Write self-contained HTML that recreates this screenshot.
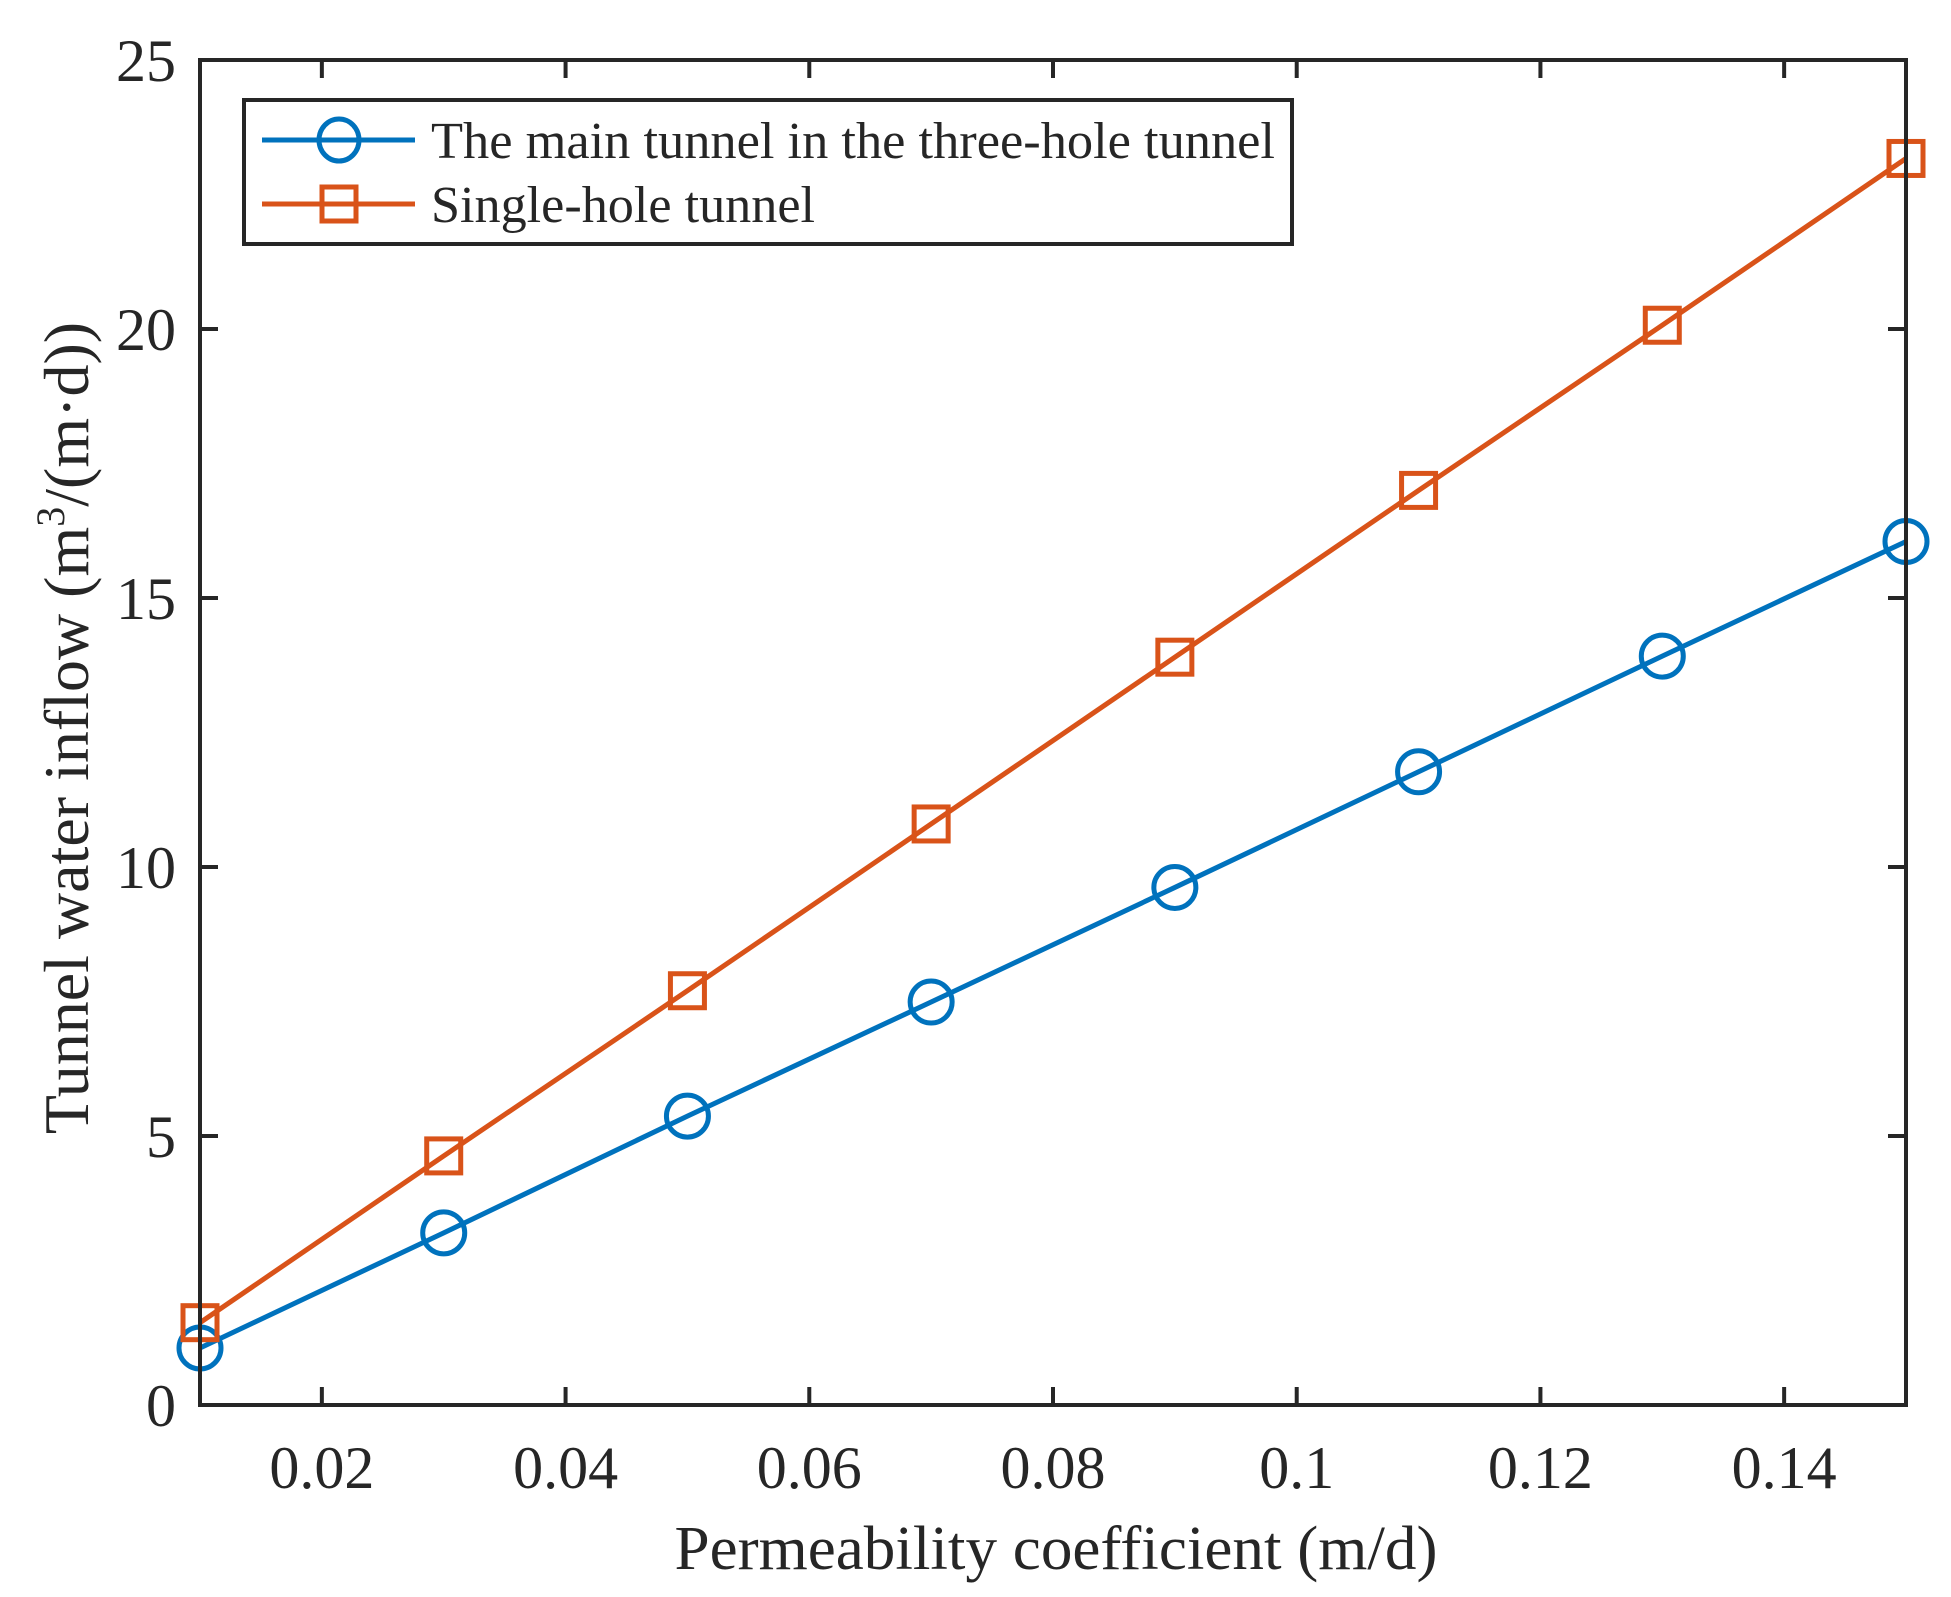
<!DOCTYPE html>
<html><head><meta charset="utf-8"><style>
html,body{margin:0;padding:0;background:#fff;}
svg text{font-family:"Liberation Serif",serif;fill:#262626;}
</style></head><body>
<svg id="chart" width="1951" height="1592" viewBox="0 0 1951 1592" xmlns="http://www.w3.org/2000/svg">
<g id="grid"></g>
<g id="series"></g>
<g id="axes"></g>
<g id="legend">
  <rect x="244" y="100" width="1048" height="144" fill="#fff" stroke="#262626" stroke-width="4"/>
  <g>
    <line x1="262" y1="140" x2="415" y2="140" stroke="#0072BD" stroke-width="5"/>
    <ellipse cx="339" cy="140" rx="20" ry="21" fill="none" stroke="#0072BD" stroke-width="5"/>
    <text x="431" y="158" font-size="52" textLength="844" lengthAdjust="spacingAndGlyphs">The main tunnel in the three-hole tunnel</text>
  </g>
  <g>
    <line x1="262" y1="204" x2="415" y2="204" stroke="#D95319" stroke-width="5"/>
    <rect x="322" y="187" width="34" height="34" fill="none" stroke="#D95319" stroke-width="5"/>
    <text x="431" y="222" font-size="52" textLength="384" lengthAdjust="spacingAndGlyphs">Single-hole tunnel</text>
  </g>
</g>
<text x="1056" y="1569" font-size="62" text-anchor="middle" textLength="763" lengthAdjust="spacingAndGlyphs">Permeability coefficient (m/d)</text>
<text transform="translate(88,728) rotate(-90)" font-size="64" text-anchor="middle">Tunnel  water inflow (m<tspan dy="-24" font-size="40">3</tspan><tspan dy="24">/(m·d))</tspan></text>
</svg>
<script>
const xValues = [0.01,0.03,0.05,0.07,0.09,0.11,0.13,0.15];
const mainTunnel = [1.06,3.2,5.37,7.49,9.62,11.77,13.92,16.05];
const singleHole = [1.53,4.63,7.7,10.8,13.9,17.0,20.07,23.17];
const xTicks = [0.02,0.04,0.06,0.08,0.1,0.12,0.14];
const xTickLabels = ["0.02","0.04","0.06","0.08","0.1","0.12","0.14"];
const yTicks = [0,5,10,15,20,25];
const yTickLabels = ["0","5","10","15","20","25"];

const L=200,R=1906,T=60,B=1405;
const X0=0.01,X1=0.15,Y0=0,Y1=25;
function sx(v){return L+(v-X0)/(X1-X0)*(R-L);}
function sy(v){return B-(v-Y0)/(Y1-Y0)*(B-T);}
const NS="http://www.w3.org/2000/svg";
function mk(tag,attrs,parent){const e=document.createElementNS(NS,tag);for(const k in attrs)e.setAttribute(k,attrs[k]);parent.appendChild(e);return e;}

const axes=document.getElementById('axes');
const frame=mk('rect',{x:L,y:T,width:R-L,height:B-T,fill:'none',stroke:'#262626','stroke-width':4},axes);


xTicks.forEach((v,i)=>{
  const x=sx(v);
  const t1=mk('line',{x1:x,y1:B,x2:x,y2:B-18,stroke:'#262626','stroke-width':4},axes);
  
  
  const t2=mk('line',{x1:x,y1:T,x2:x,y2:T+18,stroke:'#262626','stroke-width':4},axes);
  
  
  const lb=mk('text',{x:x,y:1488,'font-size':60,'text-anchor':'middle'},axes);
  lb.textContent=xTickLabels[i];
  
  
});
yTicks.forEach((v,i)=>{
  const y=sy(v);
  const t1=mk('line',{x1:L,y1:y,x2:L+18,y2:y,stroke:'#262626','stroke-width':4},axes);
  
  
  const t2=mk('line',{x1:R,y1:y,x2:R-18,y2:y,stroke:'#262626','stroke-width':4},axes);
  
  
  const lb=mk('text',{x:176,y:y+21,'font-size':60,'text-anchor':'end'},axes);
  lb.textContent=yTickLabels[i];
  
  
});

const series=document.getElementById('series');
function drawSeries(vals,color,marker,name){
  const g=mk('g',{},series);
  
  
  const pts=vals.map((v,i)=>sx(xValues[i])+','+sy(v)).join(' ');
  const pl=mk('polyline',{points:pts,fill:'none',stroke:color,'stroke-width':5},g);
  
  
  vals.forEach((v,i)=>{
    const x=sx(xValues[i]),y=sy(v);
    let m;
    if(marker==='circle') m=mk('circle',{cx:x,cy:y,r:21,fill:'none',stroke:color,'stroke-width':5},g);
    else m=mk('rect',{x:x-17,y:y-17,width:34,height:34,fill:'none',stroke:color,'stroke-width':5},g);
    
    
  });
}
drawSeries(mainTunnel,'#0072BD','circle','main-tunnel-series');
drawSeries(singleHole,'#D95319','square','single-hole-series');
</script>
</body></html>
